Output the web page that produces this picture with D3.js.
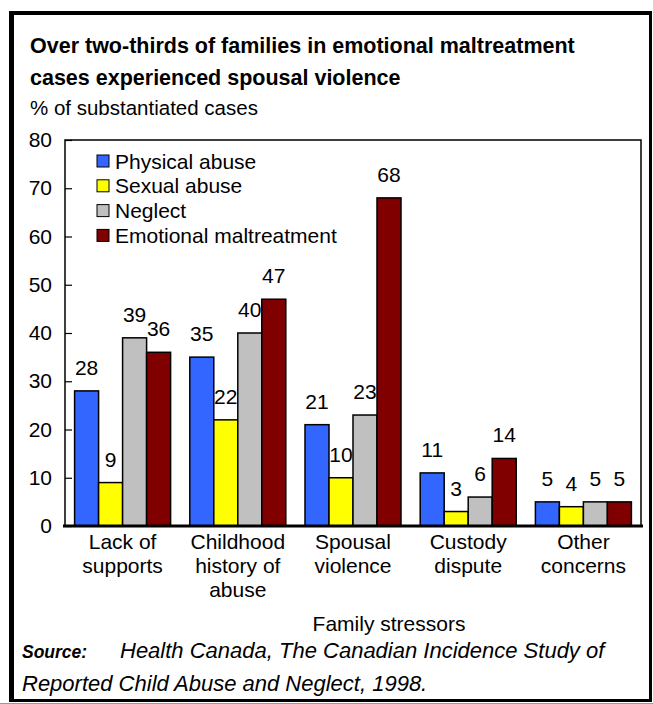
<!DOCTYPE html>
<html><head><meta charset="utf-8">
<script src="https://cdn.jsdelivr.net/npm/d3@7"></script>
<style>body{margin:0;background:#fff}svg{display:block}text{font-family:"Liberation Sans",Arial,sans-serif}</style>
</head><body><svg id="c" width="653" height="704"></svg>
<script>
const categories = [["Lack of","supports"],["Childhood","history of","abuse"],["Spousal","violence"],["Custody","dispute"],["Other","concerns"]];
const seriesNames = ["Physical abuse","Sexual abuse","Neglect","Emotional maltreatment"];
const seriesColors = ["#3366ff","#ffff00","#c0c0c0","#800000"];
const physical = [28,35,21,11,5];
const sexual = [9,22,10,3,4];
const neglect = [39,40,23,6,5];
const emotional = [36,47,68,14,5];
const yTicks = [0,10,20,30,40,50,60,70,80];
const series = [physical, sexual, neglect, emotional];

const FS = 21;
const svg = d3.select("#c");
// outer frame
svg.append("rect").attr("x",9).attr("y",11).attr("width",643).attr("height",691).attr("fill","#000");
svg.append("rect").attr("x",14).attr("y",15).attr("width",635).attr("height",684).attr("fill","#fff");
svg.append("line").attr("x1",0).attr("x2",653).attr("y1",703.5).attr("y2",703.5).attr("stroke","#999");

svg.append("text").attr("x",30).attr("y",53).attr("font-size",21.5).attr("font-weight","bold").text("Over two-thirds of families in emotional maltreatment");
svg.append("text").attr("x",30).attr("y",85).attr("font-size",21.5).attr("font-weight","bold").text("cases experienced spousal violence");
svg.append("text").attr("x",30).attr("y",115).attr("font-size",20.5).text("% of substantiated cases");

const L=65,R=641,T=140,B=526;
const x0 = d3.scaleBand().domain(d3.range(categories.length)).range([L,R]).paddingInner(0).paddingOuter(0);
const barW = 24;
const x1 = d3.scaleBand().domain(d3.range(series.length)).range([0,barW*series.length]);
const y = d3.scaleLinear().domain([0,80]).range([B,T]);

// plot frame
svg.append("rect").attr("x",L).attr("y",T).attr("width",R-L).attr("height",B-T).attr("fill","none").attr("stroke","#000").attr("stroke-width",1.5);

// y axis
const yAxis = d3.axisLeft(y).tickValues(yTicks).tickSize(-7).tickPadding(13).tickFormat(d3.format("d"));
const ga = svg.append("g").attr("transform",`translate(${L},0)`).call(yAxis);
ga.select(".domain").remove();
ga.selectAll("line").attr("stroke","#000").attr("stroke-width",1.2);
ga.selectAll("text").attr("font-size",FS).attr("fill","#000").attr("font-family","Liberation Sans, Arial, sans-serif");

// bars
const groups = svg.append("g").selectAll("g").data(categories).join("g")
  .attr("transform",(d,i)=>`translate(${x0(i)+(x0.bandwidth()-barW*series.length)/2},0)`);
groups.each(function(c,i){
  const g=d3.select(this);
  series.forEach((s,j)=>{
    g.append("rect").attr("x",x1(j)).attr("y",y(s[i])).attr("width",x1.bandwidth()).attr("height",B-y(s[i]))
     .attr("fill",seriesColors[j]).attr("stroke","#000").attr("stroke-width",1.5);
    g.append("text").attr("x",x1(j)+x1.bandwidth()/2).attr("y",y(s[i])-16).attr("text-anchor","middle").attr("font-size",FS).text(s[i]);
  });
  c.forEach((line,k)=>{
    g.append("text").attr("x",barW*series.length/2).attr("y",549+k*24).attr("text-anchor","middle").attr("font-size",FS).text(line);
  });
});

// baseline
svg.append("line").attr("x1",L-2).attr("x2",R+2).attr("y1",B).attr("y2",B).attr("stroke","#000").attr("stroke-width",3);

// legend
const lg = svg.append("g");
seriesNames.forEach((n,j)=>{
  const cy = 161 + j*24.8;
  lg.append("rect").attr("x",97).attr("y",cy-6).attr("width",12).attr("height",12).attr("fill",seriesColors[j]).attr("stroke","#000").attr("stroke-width",1);
  lg.append("text").attr("x",115).attr("y",cy+7.5).attr("font-size",FS).text(n);
});

svg.append("text").attr("x",389).attr("y",631).attr("text-anchor","middle").attr("font-size",FS).text("Family stressors");
svg.append("text").attr("x",22).attr("y",658).attr("font-size",17.5).attr("font-style","italic").attr("font-weight","bold").text("Source:");
svg.append("text").attr("x",120).attr("y",658).attr("font-size",22).attr("font-style","italic").text("Health Canada, The Canadian Incidence Study of");
svg.append("text").attr("x",22).attr("y",691).attr("font-size",22).attr("font-style","italic").text("Reported Child Abuse and Neglect, 1998.");
</script></body></html>
